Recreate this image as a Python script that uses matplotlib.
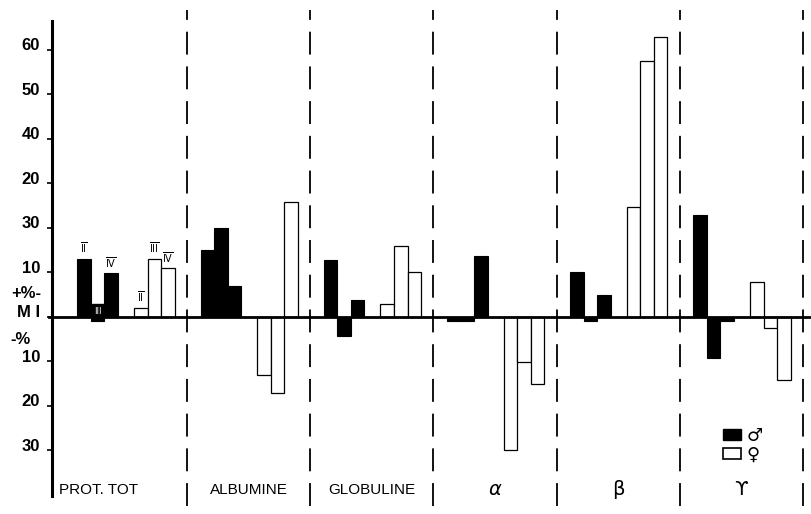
import matplotlib.pyplot as plt
from matplotlib.patches import Patch
from matplotlib.transforms import ScaledTranslation

plt.rcParams['lines.scale_dashes'] = False

sections = ['PROT. TOT', 'ALBUMINE', 'GLOBULINE', 'α', 'β', 'ϒ']
male_values = [[13.0, -1.0, 9.8], [15.0, 20.0, 7.0], [12.8, -4.2, 3.8],
               [-1.0, -1.0, 13.7], [10.0, -1.0, 4.9], [23.0, -9.2, -1.0]]
female_values = [[2.0, 13.0, 10.9], [-13.0, -17.0, 25.8], [2.9, 16.0, 10.0],
                 [-30.0, -10.2, -15.1], [24.6, 57.5, 62.8], [7.8, -2.5, -14.2]]
prot_labels = ['II', 'III', 'IV']
ytick_values = [60, 50, 40, 30, 20, 10, 0, -10, -20, -30]
ytick_labels = ['60', '50', '40', '20', '30', '10', 'M I', '10', '20', '30']

narrow = ['Liberation Sans', 'DejaVu Sans']

fig = plt.figure(figsize=(8.12, 5.14), dpi=100)
ax = fig.add_axes([0, 0, 1, 1])
ax.set_xlim(-0.518, 6.073)
ax.set_ylim(-44.3, 71.2)

bar_w = 0.11
for i, (m, f) in enumerate(zip(male_values, female_values)):
    xm = [i + 0.11 + j * bar_w for j in range(3)]
    xf = [i + 0.57 + j * bar_w for j in range(3)]
    ax.bar(xm, m, width=bar_w, align='edge', color='black', edgecolor='black', linewidth=0.8, zorder=2)
    ax.bar(xf, f, width=bar_w, align='edge', color='white', edgecolor='black', linewidth=0.9, zorder=2)
    if i == 0:
        for j, lab in enumerate(prot_labels):
            if m[j] > 0:
                ax.text(xm[j] + bar_w / 2, m[j] + 0.8, r'$\overline{\mathrm{%s}}$' % lab,
                        ha='center', va='bottom', fontsize=7)
            else:
                ax.text(xm[j] + bar_w / 2, 0.3, lab, ha='center', va='bottom', fontsize=6,
                        color='white', bbox=dict(boxstyle='square,pad=0.25', fc='black', ec='black'))
            ax.text(xf[j] + bar_w / 2, f[j] + 0.8, r'$\overline{\mathrm{%s}}$' % lab,
                    ha='center', va='bottom', fontsize=7)
    greek = i > 2
    ax.text(i + 0.5 if i > 0 else 0.28, -38.9, sections[i], ha='center', va='center',
            fontsize=14 if greek else 11, family=narrow if not greek else 'DejaVu Sans',
            style='italic' if i == 3 else 'normal')

# section separators
ax.vlines(range(1, 7), -42.5, 69.0, colors='black', linewidth=1.3,
          linestyles=(0, (16.5, 8.5)), zorder=1)

# zero line and y axis
ax.axhline(0, xmin=0.06, color='black', linewidth=2.0, zorder=3)
for s in ['top', 'right', 'bottom']:
    ax.spines[s].set_visible(False)
ax.spines['left'].set_position(('data', -0.096))
ax.spines['left'].set_bounds(-40.2, 66.5)
ax.spines['left'].set_linewidth(2.2)
ax.set_xticks([])
ax.set_yticks(ytick_values)
ax.set_yticklabels(ytick_labels, fontsize=12, family=narrow, fontweight='bold')
ax.tick_params(axis='y', direction='out', length=3.5, width=1.2, pad=5)
for lab in ax.get_yticklabels():
    lab.set_transform(lab.get_transform() + ScaledTranslation(0, 4 / 72, fig.dpi_scale_trans))

ax.text(-0.43, 5.3, '+%-', fontsize=12, family=narrow, fontweight='bold', va='center')
ax.text(-0.43, -5.0, '-%', fontsize=12, family=narrow, fontweight='bold', va='center')

handles = [Patch(fc='black', ec='black'), Patch(fc='white', ec='black', lw=1.2)]
ax.legend(handles, ['♂', '♀'], loc='upper left', bbox_to_anchor=(714 / 812, 1 - 418 / 514),
          frameon=False, handlelength=1.0, handleheight=0.6, handletextpad=0.3,
          labelspacing=0.05, borderpad=0, fontsize=13)

fig.savefig('out.png', dpi=100)
